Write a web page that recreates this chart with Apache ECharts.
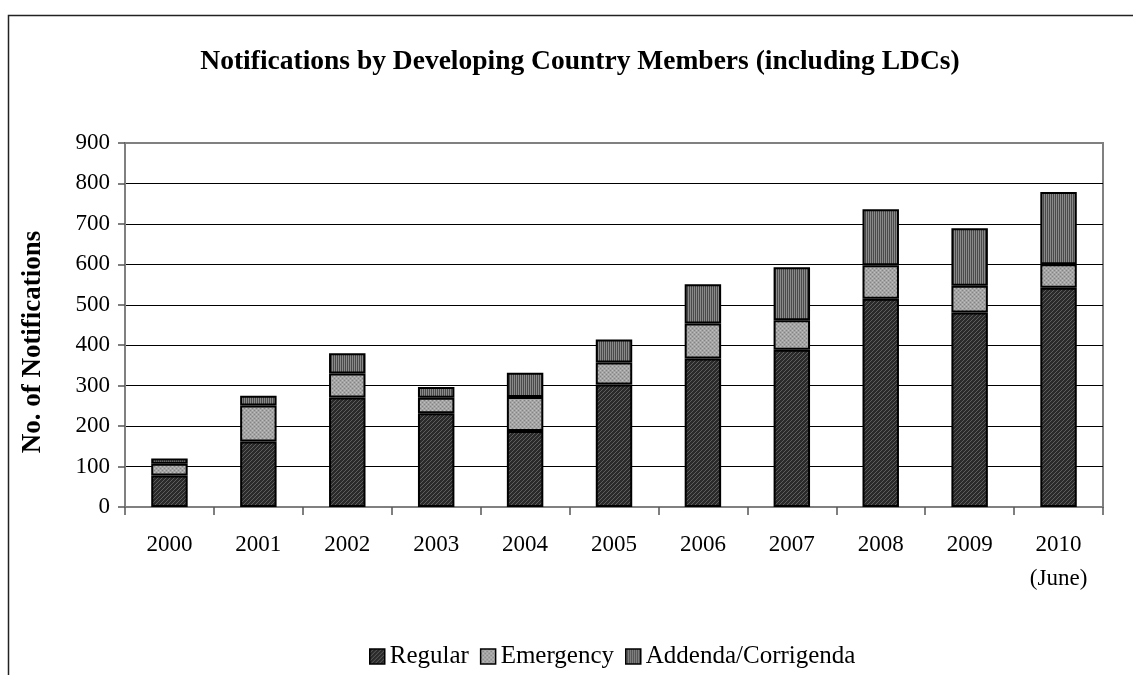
<!DOCTYPE html>
<html>
<head>
<meta charset="utf-8">
<script src="https://cdn.jsdelivr.net/npm/echarts@6/dist/echarts.min.js"></script>
<style>
html,body{margin:0;padding:0;background:#fff;}
#chart{width:1133px;height:675px;}
</style>
</head>
<body>
<div id="chart"></div>
<script>
var categories = ['2000','2001','2002','2003','2004','2005','2006','2007','2008','2009','2010\n(June)'];
var regular   = [78, 162, 271, 232, 188, 303, 367, 389, 515, 481, 542];
var emergency = [29, 89, 59, 38, 84, 54, 87, 73, 83, 66, 58];
var addenda   = [13, 24, 50, 27, 60, 57, 97, 131, 138, 142, 179];
var yTicks = [0,100,200,300,400,500,600,700,800,900];
var seriesNames = ['Regular','Emergency','Addenda/Corrigenda'];

function makePattern(kind){
  var c = document.createElement('canvas');
  c.width = 4; c.height = 4;
  var g = c.getContext('2d');
  if(kind === 'regular'){
    g.fillStyle = '#2a2a2a'; g.fillRect(0,0,4,4);
    g.fillStyle = '#5e5e5e';
    for(var i=0;i<4;i++){ g.fillRect((3-i+4)%4, i, 1, 1); }
  } else if(kind === 'emergency'){
    g.fillStyle = '#a4a4a4'; g.fillRect(0,0,4,4);
    g.fillStyle = '#838383';
    g.fillRect(0,0,1,1); g.fillRect(2,2,1,1);
    g.fillStyle = '#c0c0c0';
    g.fillRect(2,0,1,1); g.fillRect(0,2,1,1);
  } else {
    g.fillStyle = '#4a4a4a'; g.fillRect(0,0,4,4);
    g.fillStyle = '#8a8a8a';
    g.fillRect(0,0,1,4); g.fillRect(2,0,1,4);
  }
  return {image: c, repeat: 'repeat'};
}

var patterns = [makePattern('regular'), makePattern('emergency'), makePattern('addenda')];
var dataSets = [regular, emergency, addenda];
var FONT = '"Liberation Serif", "Times New Roman", serif';

var chart = echarts.init(document.getElementById('chart'), null, {renderer:'canvas'});
var series = seriesNames.map(function(name, i){
  return {
    name: name,
    type: 'bar',
    stack: 'total',
    barWidth: '41%',
    data: dataSets[i],
    itemStyle: {color: patterns[i], borderColor: '#000', borderWidth: 2},
    emphasis: {disabled: true}
  };
});

chart.setOption({
  animation: false,
  backgroundColor: '#fff',
  title: {
    text: 'Notifications by Developing Country Members (including LDCs)',
    left: 575,
    textAlign: 'center',
    top: 43,
    textStyle: {fontFamily: FONT, fontWeight: 'bold', fontSize: 27.5, color: '#000'}
  },
  graphic: [
    {type: 'rect', shape: {x: 8.5, y: 15.5, width: 1200, height: 800}, style: {fill: 'none', stroke: '#222', lineWidth: 1.5}, silent: true},
    {type: 'text', x: 33, y: 342, rotation: Math.PI/2, style: {text: 'No. of Notifications', fontFamily: FONT, fontWeight: 'bold', fontSize: 27, fill: '#000', align: 'center', verticalAlign: 'middle'}, silent: true}
  ],
  legend: {
    data: seriesNames,
    icon: 'rect',
    left: 364,
    top: 639,
    itemWidth: 15,
    itemHeight: 15,
    itemGap: 11,
    itemStyle: {borderColor: '#000', borderWidth: 1.5},
    textStyle: {fontFamily: FONT, fontSize: 25, color: '#000'},
    selectedMode: false
  },
  grid: {left: 125, right: 30, top: 143, bottom: 168, show: true, borderColor: '#808080', borderWidth: 2, backgroundColor: 'transparent'},
  xAxis: {
    type: 'category',
    data: categories,
    axisLine: {lineStyle: {color: '#808080', width: 2}},
    axisTick: {show: true, alignWithLabel: false, length: 8, lineStyle: {color: '#555', width: 1.5}},
    axisLabel: {fontFamily: FONT, fontSize: 23, color: '#000', margin: 21, lineHeight: 34, interval: 0}
  },
  yAxis: {
    type: 'value',
    min: yTicks[0],
    max: yTicks[yTicks.length-1],
    interval: 100,
    axisLine: {show: true, lineStyle: {color: '#808080', width: 2}},
    axisTick: {show: true, length: 7, lineStyle: {color: '#555', width: 1.5}},
    axisLabel: {fontFamily: FONT, fontSize: 23, color: '#000', margin: 15},
    splitLine: {showMinLine: false, showMaxLine: false, lineStyle: {color: '#000', width: 1}}
  },
  series: series
});
</script>
</body>
</html>
